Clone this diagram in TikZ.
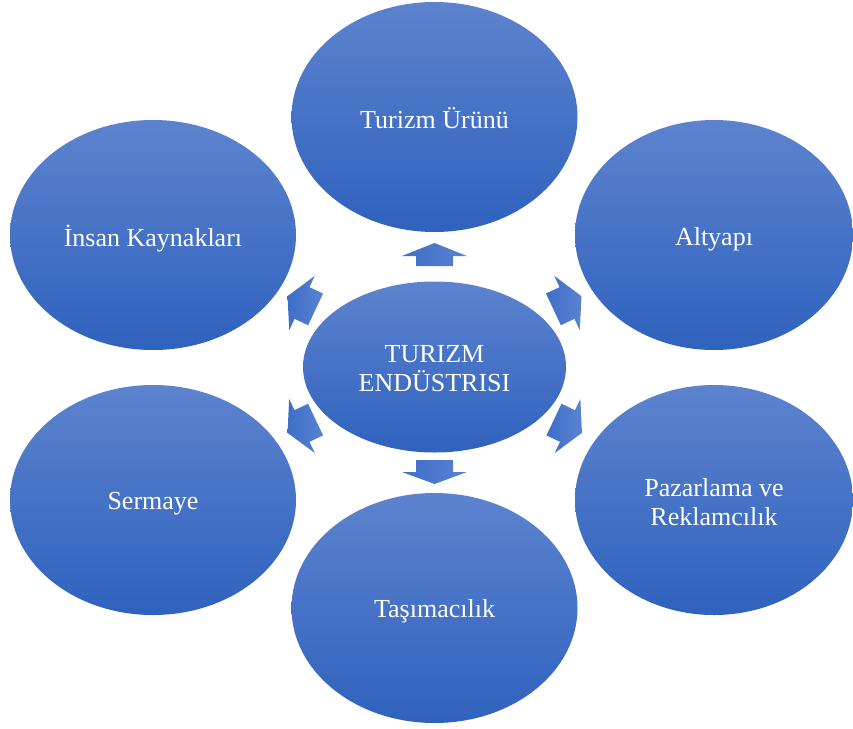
\documentclass[tikz,border=0pt]{standalone}
\usepackage{fontspec}
\setmainfont{Liberation Serif}
\usetikzlibrary{shapes.geometric}
\definecolor{blueTop}{RGB}{93,131,206}
\definecolor{blueBot}{RGB}{47,98,190}
\definecolor{arrDark}{RGB}{62,110,200}
\definecolor{arrLight}{RGB}{90,130,210}
\tikzset{
  bubble/.style={ellipse, inner sep=0pt, top color=blueTop, bottom color=blueBot,
    draw=none},
  outer/.style={bubble, minimum width=286pt, minimum height=230pt},
  caption/.style={text=white, align=center, inner sep=0pt,
    font=\fontsize{26}{29}\selectfont},
  blockarrow/.style={left color=arrDark, right color=arrLight, draw=none},
}
\newcommand{\diagarrow}[2]{%
  \path[blockarrow, shift={#1}, rotate=#2]
    (-15,-17.5) -- (0,-17.5) -- (0,-30) -- (16,0) -- (0,30) -- (0,17.5) -- (-15,17.5) -- cycle;}
\begin{document}
\begin{tikzpicture}[x=1pt,y=-1pt]
\useasboundingbox (0,0) rectangle (853,728);
\node[outer] (urun) at (434.5,117) {};
\node[outer, minimum width=278pt] (altyapi) at (714,235) {};
\node[outer, minimum width=278pt] (pazar) at (714,500) {};
\node[outer] (tasima) at (434.5,608) {};
\node[outer] (sermaye) at (153,500) {};
\node[outer] (insan) at (153,235) {};
\node[bubble, minimum width=263pt, minimum height=171pt] (center) at (434.5,367) {};
\node[caption] (turun) at ([yshift=-1pt]urun.center) {Turizm Ürünü};
\node[caption] (taltyapi) at ([yshift=-4pt]altyapi.center) {Altyapı};
\node[caption] (tpazar) at ([yshift=-2pt]pazar.center) {Pazarlama ve\\Reklamcılık};
\node[caption] (ttasima) at ([yshift=-3pt]tasima.center) {Taşımacılık};
\node[caption] (tsermaye) at ([yshift=-4pt]sermaye.center) {Sermaye};
\node[caption] (tinsan) at ([yshift=-4pt]insan.center) {İnsan Kaynakları};
\node[caption] (tcenter) at ([yshift=-2pt]center.center) {TURIZM\\ENDÜSTRISI};
% up arrow
\path[blockarrow, shift={(434.5,256)}, rotate=90]
  (-10,-18.5) -- (0,-18.5) -- (0,-32.5) -- (13,0) -- (0,32.5) -- (0,18.5) -- (-10,18.5) -- cycle;
% down arrow
\path[blockarrow, shift={(434.5,472)}, rotate=-90]
  (-12,-18.5) -- (0,-18.5) -- (0,-32.5) -- (12,0) -- (0,32.5) -- (0,18.5) -- (-12,18.5) -- cycle;
\diagarrow{(567,303)}{25.2}
\diagarrow{(567.5,426)}{-25.4}
\diagarrow{(302,303)}{154.8}
\diagarrow{(302,426)}{205.4}
\end{tikzpicture}
\end{document}
